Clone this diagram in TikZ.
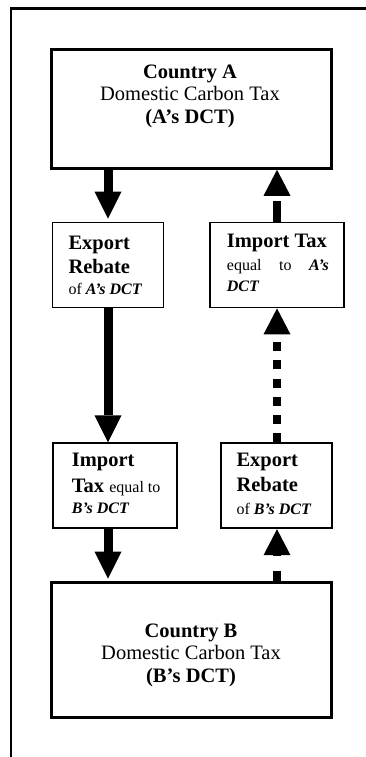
\documentclass[tikz,border=0pt]{standalone}
\usepackage{fontspec}
\setmainfont{Liberation Serif}
\usetikzlibrary{arrows.meta}
\begin{document}
\begin{tikzpicture}[x=1pt,y=-1pt,
  bigbox/.style={draw, line width=3pt, inner sep=0pt},
  smallbox/.style={draw, line width=1.8pt, inner sep=0pt},
  txt/.style={inner sep=0pt, font=\fontsize{20.5}{23}\selectfont},
  solidarrow/.style={line width=9pt, -{Triangle[width=27pt,length=27pt,line width=0pt]}},
  dasharrow/.style={line width=8pt, -{Triangle[width=27pt,length=26pt,line width=0pt]}},
]
\newcommand{\smf}{\fontsize{16}{23}\selectfont}
\useasboundingbox (0,0) rectangle (365,757);
% outer frame
\draw[line width=2.8pt] (11,757) -- (11,8.3) -- (366,8.3);

% boxes
\node[bigbox, minimum width=280pt, minimum height=119pt] (ca) at (191.8,108.8) {};
\node[smallbox, minimum width=111pt, minimum height=85pt] (erA) at (108,265) {};
\node[smallbox, minimum width=134pt, minimum height=85pt] (irA) at (277,265) {};
\node[smallbox, minimum width=124.5pt, minimum height=85pt] (itB) at (114.9,485.8) {};
\node[smallbox, minimum width=111.5pt, minimum height=85pt] (erB) at (276.4,485.8) {};
\node[bigbox, minimum width=280pt, minimum height=135.6pt] (cb) at (191.8,650) {};

% texts
\node[txt, align=flush center, anchor=north] (caT) at (190,64.6)
  {\textbf{Country A}\\[-0.5pt]Domestic Carbon Tax\\[-0.5pt]\textbf{(A's DCT)}};
\node[txt, align=flush left, anchor=north west, text width=95pt] (erAT) at (68.3,235.4)
  {\textbf{Export}\\[1pt]\textbf{Rebate}\\[-2pt]{\smf of \textbf{\textit{A's DCT}}}};
\node[txt, align=justify, anchor=north west, text width=102pt] (irAT) at (226.7,234.1)
  {\textbf{Import Tax}\\[1.3pt]{\fontsize{16}{21}\selectfont equal to \textbf{\textit{A's DCT}}\par}};
\node[txt, align=flush left, anchor=north west, text width=100pt] (itBT) at (71.7,453.1)
  {\textbf{Import}\\[3pt]\textbf{Tax} {\smf equal to}\\[-2.4pt]{\smf\textbf{\textit{B's DCT}}}};
\node[txt, align=flush left, anchor=north west, text width=95pt] (erBT) at (236.3,453.1)
  {\textbf{Export}\\[2pt]\textbf{Rebate}\\[-0.7pt]{\smf of \textbf{\textit{B's DCT}}}};
\node[txt, align=flush center, anchor=north] (cbT) at (191,623.4)
  {\textbf{Country B}\\[-0.5pt]Domestic Carbon Tax\\[-0.5pt]\textbf{(B's DCT)}};

% arrows
\coordinate (lx) at (108,0);
\coordinate (rx) at (277,0);
\draw[solidarrow, shorten >=3pt] (ca.south -| lx) -- (erA.north -| lx);
\draw[solidarrow] (erA.south -| lx) -- (itB.north -| lx);
\draw[solidarrow, shorten >=2pt] (itB.south -| lx) -- (cb.north -| lx);
\draw[dasharrow, dash pattern=on 10pt off 15pt] (cb.north -| rx) -- (erB.south -| rx);
\draw[dasharrow, dash pattern=on 9pt off 9.3pt] (erB.north -| rx) -- (irA.south -| rx);
\draw[dasharrow, dash pattern=on 21pt off 5pt] (irA.north -| rx) -- (ca.south -| rx);
\end{tikzpicture}
\end{document}
